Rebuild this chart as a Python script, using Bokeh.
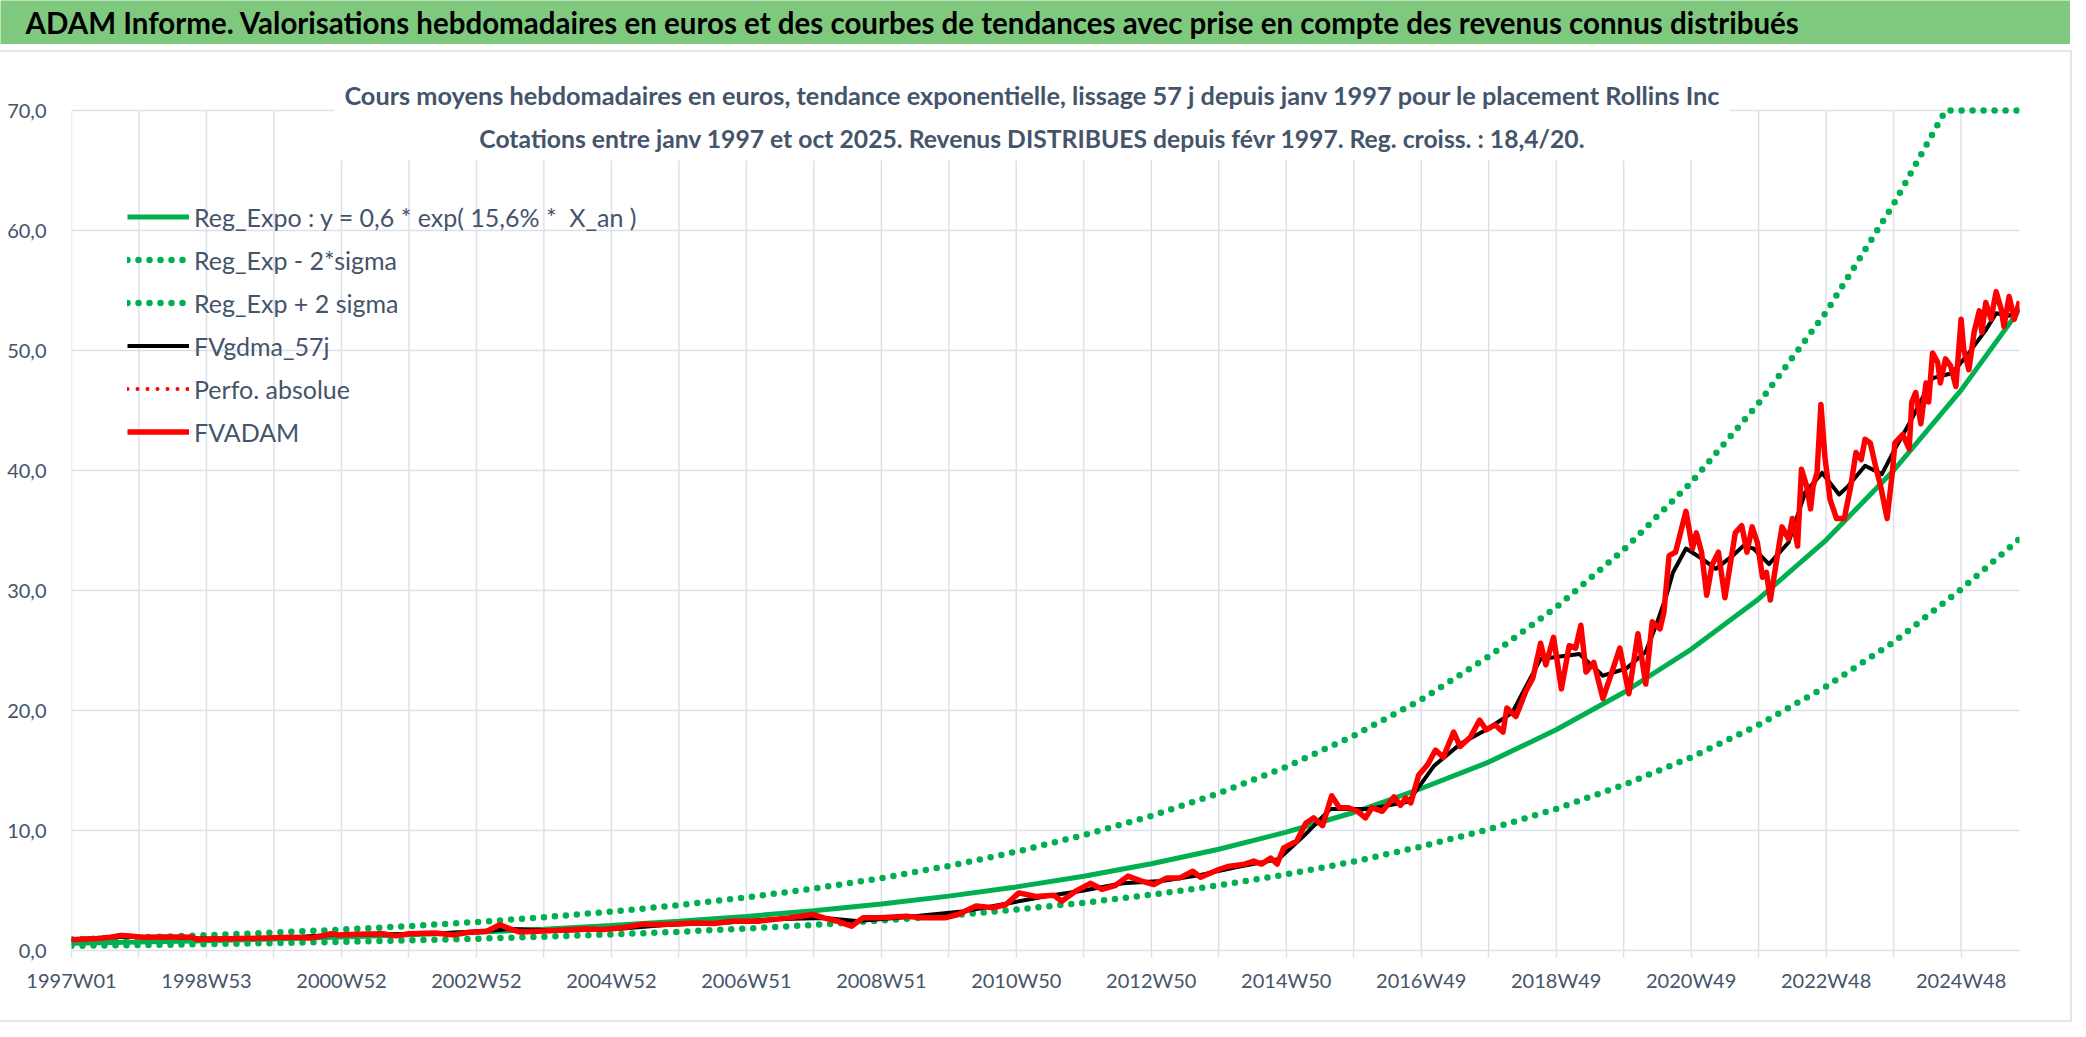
from bokeh.plotting import figure
from bokeh.models import Range1d, FixedTicker, Label, BoxAnnotation, Legend, LegendItem
from bokeh.layouts import column
from bokeh.embed import file_html
from bokeh.resources import INLINE

# ---------------- data ----------------
title_text = ("ADAM Informe. Valorisations hebdomadaires en euros et des courbes de tendances "
              "avec prise en compte des revenus connus distribués")
subtitle_1 = ("Cours moyens hebdomadaires en euros, tendance exponentielle, lissage 57 j depuis "
              "janv 1997 pour le placement Rollins Inc")
subtitle_2 = ("Cotations entre janv 1997 et oct 2025. Revenus DISTRIBUES depuis févr 1997. "
              "Reg. croiss. : 18,4/20.")

x_tick_labels = ["1997W01", "1998W53", "2000W52", "2002W52", "2004W52", "2006W51", "2008W51",
                 "2010W50", "2012W50", "2014W50", "2016W49", "2018W49", "2020W49", "2022W48",
                 "2024W48"]
y_ticks = [0, 10, 20, 30, 40, 50, 60, 70]
y_tick_labels = ["0,0", "10,0", "20,0", "30,0", "40,0", "50,0", "60,0", "70,0"]

last_week = 1501  # weekly categories 0 .. 1501 (1997W01 .. oct 2025)
y_max = 70

trend_weeks = list(range(0, 1457, 52)) + [1501]
reg_expo = [0.60, 0.70, 0.82, 0.96, 1.12, 1.31, 1.53, 1.78, 2.08, 2.43, 2.84, 3.32, 3.88, 4.53,
            5.30, 6.19, 7.23, 8.44, 9.86, 11.5, 13.5, 15.7, 18.4, 21.5, 25.1, 29.3, 34.2, 40.0,
            46.7, 53.4]
reg_minus = [0.39, 0.45, 0.53, 0.62, 0.72, 0.84, 0.98, 1.15, 1.34, 1.56, 1.83, 2.13, 2.49, 2.91,
             3.41, 3.98, 4.65, 5.43, 6.34, 7.41, 8.66, 10.1, 11.8, 13.8, 16.1, 18.8, 22.0, 25.7,
             30.1, 34.3]
upper_weeks = list(range(0, 1405, 52)) + [1444, 1456, 1501]
reg_plus = [0.93, 1.09, 1.27, 1.49, 1.74, 2.03, 2.37, 2.77, 3.24, 3.78, 4.42, 5.16, 6.03, 7.05,
            8.23, 9.62, 11.2, 13.1, 15.3, 17.9, 20.9, 24.5, 28.6, 33.4, 39.0, 45.6, 53.2, 62.2,
            70.0, 70.0, 70.0]

smooth_weeks = [0, 40, 80, 100, 130, 160, 200, 240, 280, 320,
                340, 380, 420, 460, 500, 540, 580, 605, 640, 690,
                720, 750, 780, 810, 840, 870, 900, 930, 950, 970,
                1000, 1030, 1050, 1070, 1090, 1110, 1132, 1162, 1180, 1198,
                1213, 1221, 1229, 1234, 1244, 1257, 1267, 1280, 1288, 1296,
                1308, 1323, 1336, 1349, 1362, 1369, 1382, 1395, 1405, 1418,
                1434, 1449, 1462, 1475, 1483, 1493, 1501]
fvgdma = [0.9, 1.15, 1.1, 1.0, 1.0, 1.05, 1.3, 1.35, 1.4, 1.65,
          1.8, 1.65, 1.8, 2.15, 2.3, 2.6, 2.7, 2.45, 2.75, 3.3,
          3.9, 4.5, 5.0, 5.6, 5.8, 6.3, 7.0, 7.6, 9.6, 11.8,
          11.8, 12.4, 15.4, 17.2, 18.4, 19.8, 24.3, 24.7, 22.9, 23.5,
          24.9, 27.1, 29.6, 31.5, 33.5, 32.6, 31.8, 32.9, 33.7, 33.5,
          32.2, 34.0, 38.2, 39.8, 38.0, 38.7, 40.4, 39.7, 41.8, 44.3,
          47.7, 48.1, 49.8, 51.7, 53.1, 52.9, 53.4]

adam_weeks = [0, 10, 20, 30, 38, 45, 55, 70, 85, 93,
              97, 110, 130, 150, 170, 185, 195, 200, 205, 220,
              240, 250, 260, 280, 295, 305, 320, 330, 338, 345,
              360, 380, 395, 410, 425, 440, 450, 465, 480, 495,
              509, 529, 553, 571, 580, 590, 601, 610, 623, 643,
              656, 673, 683, 697, 710, 720, 730, 743, 757, 763,
              773, 785, 794, 804, 814, 824, 834, 844, 854, 864,
              870, 884, 891, 904, 911, 917, 924, 929, 934, 944,
              951, 957, 964, 971, 977, 984, 991, 997,
              1002, 1010, 1019, 1024, 1028, 1032, 1038, 1045, 1051, 1057,
              1065, 1070, 1078, 1085, 1090, 1097, 1103, 1106, 1113, 1121,
              1126, 1132, 1136, 1142, 1148, 1154, 1159, 1163, 1167, 1173,
              1180, 1186, 1193, 1200, 1207, 1213, 1218, 1224, 1227, 1231,
              1236, 1244,
              1249, 1252, 1256, 1260, 1264, 1269, 1274, 1282, 1287, 1291,
              1295, 1299, 1303, 1306, 1309, 1314, 1318, 1323, 1326, 1330,
              1333, 1337, 1340, 1342, 1345, 1348, 1351, 1355, 1360, 1366,
              1371, 1375, 1379, 1382, 1386, 1390, 1394, 1399, 1403, 1405,
              1411, 1416, 1418, 1421, 1425, 1429, 1431, 1434, 1438, 1440,
              1444, 1448, 1452, 1456, 1458, 1462, 1466, 1470, 1472, 1475,
              1479, 1483, 1487, 1489, 1493, 1497, 1501]
fvadam = [0.9, 0.95, 1.0, 1.1, 1.25, 1.2, 1.1, 1.12, 1.12, 1.1,
          0.92, 0.95, 1.0, 1.05, 1.1, 1.05, 1.25, 1.4, 1.3, 1.35,
          1.4, 1.22, 1.4, 1.45, 1.3, 1.5, 1.6, 2.15, 1.8, 1.55,
          1.6, 1.7, 1.8, 1.75, 1.9, 2.2, 2.15, 2.2, 2.3, 2.25,
          2.44, 2.44, 2.72, 3.0, 2.72, 2.44, 2.03, 2.72, 2.72, 2.86,
          2.72, 2.72, 3.0, 3.7, 3.56, 3.83, 4.8, 4.5, 4.6, 4.1,
          4.9, 5.6, 5.1, 5.4, 6.2, 5.8, 5.5, 6.05, 6.05, 6.6,
          6.1, 6.75, 7.0, 7.2, 7.45, 7.2, 7.7, 7.2, 8.55, 9.1,
          10.6, 11.05, 10.4, 12.9, 11.9, 11.9, 11.6, 11.05,
          11.9, 11.6, 12.8, 12.1, 12.7, 12.3, 14.6, 15.5, 16.7, 16.1,
          18.2, 17.0, 17.8, 19.2, 18.4, 18.8, 18.2, 20.2, 19.5, 21.7,
          22.7, 25.6, 23.8, 26.1, 21.8, 25.4, 25.2, 27.1, 23.2, 24.0,
          21.0, 22.9, 25.2, 21.4, 26.4, 22.2, 27.4, 26.8, 28.2, 32.9,
          33.2, 36.6,
          33.5, 34.8, 33.2, 29.6, 32.1, 33.2, 29.4, 34.8, 35.4, 33.2,
          35.3, 34.0, 31.1, 31.5, 29.2, 32.6, 35.3, 34.3, 36.0, 33.7,
          40.1, 38.7, 36.8, 38.7, 39.8, 45.5, 41.2, 37.6, 36.0, 36.0,
          38.7, 41.5, 40.9, 42.6, 42.3, 40.4, 38.7, 36.0, 39.8, 42.3,
          43.0, 41.8, 45.7, 46.5, 43.9, 47.3, 45.7, 49.8, 49.0, 47.3,
          49.3, 48.7, 47.0, 52.6, 50.1, 48.4, 51.5, 53.3, 51.5, 54.0,
          52.6, 54.9, 53.4, 52.0, 54.5, 52.6, 54.1]

legend_labels = ["Reg_Expo : y = 0,6 * exp( 15,6% *  X_an )", "Reg_Exp - 2*sigma",
                 "Reg_Exp + 2 sigma", "FVgdma_57j", "Perfo. absolue", "FVADAM"]

# ---------------- styling / layout ----------------
FONT = "Lato"
SLATE = "#44546A"
GREEN = "#00B050"
RED = "#FF0000"
GRIDC = "#DDE1E7"
BANNER = "#7FC97F"

W = 2070
BANNER_H = 44
MAIN_H = 968
B_LEFT, B_RIGHT, B_TOP, B_BOTTOM = 71, 51, 2, 70
FRAME_W = W - B_LEFT - B_RIGHT
FRAME_H = MAIN_H - B_TOP - B_BOTTOM
PX_Y = 840 / y_max                  # 12 px per unit, 70 sits 840 px above the x axis
Y_TOP = FRAME_H / PX_Y
PX_X = FRAME_W / last_week

# ---- banner ----
banner = figure(width=W, height=BANNER_H, x_range=Range1d(0, W), y_range=Range1d(0, BANNER_H),
                toolbar_location=None, output_backend="svg",
                x_axis_location=None, y_axis_location=None)
banner.grid.visible = False
banner.outline_line_color = None
banner.background_fill_color = BANNER
banner.border_fill_color = BANNER

# ---- main chart ----
p = figure(width=W, height=MAIN_H, x_range=Range1d(0, last_week), y_range=Range1d(0, Y_TOP),
           toolbar_location=None, output_backend="svg",
           min_border_left=B_LEFT, min_border_right=B_RIGHT,
           min_border_top=B_TOP, min_border_bottom=B_BOTTOM)

try:
    banner.frame_align = False
    p.frame_align = False
    free_frames = True
except Exception:
    free_frames = False

if free_frames:
    banner.min_border = 0
    banner.min_border_left = 0
    banner.min_border_right = 0
    banner.min_border_top = 0
    banner.min_border_bottom = 0
    banner.title = None
    banner.add_layout(Label(x=25, y=BANNER_H - 22, text=title_text, text_font=FONT,
                            text_font_style="bold", text_font_size="29.5px",
                            text_color="black", text_baseline="middle",
                            text_align="left"))
else:
    banner.min_border_left = B_LEFT
    banner.min_border_right = B_RIGHT
    banner.min_border_top = 2
    banner.min_border_bottom = 0
    banner.title.text = title_text
    banner.title.align = "left"
    banner.title.offset = 25 - B_LEFT
    banner.title.standoff = 0
    banner.title.vertical_align = "middle"
    banner.title.text_font = FONT
    banner.title.text_font_style = "bold"
    banner.title.text_font_size = "29.5px"
    banner.title.text_color = "black"

p.outline_line_color = None
p.background_fill_color = "white"
p.border_fill_color = "white"

grid_weeks = list(range(0, last_week + 1, 52))
p.xaxis.ticker = FixedTicker(ticks=grid_weeks)
overrides = {}
for t in grid_weeks:
    overrides[t] = x_tick_labels[t // 104] if t % 104 == 0 else ""
p.xaxis.major_label_overrides = overrides
p.xaxis.axis_line_color = GRIDC
p.xaxis.axis_line_width = 1.5
p.xaxis.major_tick_line_color = GRIDC
p.xaxis.major_tick_line_width = 1.5
p.xaxis.major_tick_out = 7
p.xaxis.major_tick_in = 0
p.xaxis.minor_tick_line_color = None
p.xaxis.major_label_standoff = 10
p.xaxis.major_label_text_font = FONT
p.xaxis.major_label_text_font_size = "20px"
p.xaxis.major_label_text_color = SLATE

p.yaxis.ticker = FixedTicker(ticks=y_ticks)
p.yaxis.major_label_overrides = dict(zip(y_ticks, y_tick_labels))
p.yaxis.axis_line_color = None
p.yaxis.major_tick_line_color = None
p.yaxis.minor_tick_line_color = None
p.yaxis.major_label_standoff = 19
p.yaxis.major_label_text_font = FONT
p.yaxis.major_label_text_font_size = "20px"
p.yaxis.major_label_text_color = SLATE

# horizontal grid from the y ticker; vertical grid lines stop at the 70 line
p.xgrid.grid_line_color = None
p.ygrid.ticker = FixedTicker(ticks=y_ticks)
p.ygrid.grid_line_color = GRIDC
p.ygrid.grid_line_width = 1.5
p.segment(x0=grid_weeks, y0=[0] * len(grid_weeks), x1=grid_weeks,
          y1=[y_max] * len(grid_weeks), line_color=GRIDC, line_width=1.5)

r_trend = p.line(trend_weeks, reg_expo, line_color=GREEN, line_width=5)
r_minus = p.line(trend_weeks, reg_minus, line_color=GREEN, line_width=6.5,
                 line_dash="0 11", line_cap="round")
r_plus = p.line(upper_weeks, reg_plus, line_color=GREEN, line_width=6.5,
                line_dash="0 11", line_cap="round")
r_perfo = p.line(adam_weeks, fvadam, line_color=RED, line_width=4, line_dash="0 10",
                 line_cap="round")
r_gdma = p.line(smooth_weeks, fvgdma, line_color="black", line_width=4, line_join="round")
r_adam = p.line(adam_weeks, fvadam, line_color=RED, line_width=5.5, line_join="round")

# white title box of the chart title (hides the grid under it)
title_left_px, title_right_px, title_bottom_px = 263, 1658, 50
p.add_layout(BoxAnnotation(left=title_left_px / PX_X, right=title_right_px / PX_X,
                           bottom=y_max - title_bottom_px / PX_Y, top=Y_TOP,
                           fill_color="white", fill_alpha=1.0, line_color=None))
p.add_layout(Label(x=961 / PX_X, y=y_max + 15.5 / PX_Y, text=subtitle_1, text_font=FONT,
                   text_font_style="bold", text_font_size="25.3px", text_color=SLATE,
                   text_align="center", text_baseline="middle"))
p.add_layout(Label(x=961 / PX_X, y=y_max - 28 / PX_Y, text=subtitle_2, text_font=FONT,
                   text_font_style="bold", text_font_size="24.7px", text_color=SLATE,
                   text_align="center", text_baseline="middle"))

legend = Legend(items=[LegendItem(label=legend_labels[0], renderers=[r_trend]),
                       LegendItem(label=legend_labels[1], renderers=[r_minus]),
                       LegendItem(label=legend_labels[2], renderers=[r_plus]),
                       LegendItem(label=legend_labels[3], renderers=[r_gdma]),
                       LegendItem(label=legend_labels[4], renderers=[r_perfo]),
                       LegendItem(label=legend_labels[5], renderers=[r_adam])],
                location=(56, 497), orientation="vertical",
                glyph_width=62, glyph_height=43, label_height=43, label_standoff=5,
                spacing=0, padding=0, margin=0,
                label_text_font=FONT, label_text_font_size="25px", label_text_color=SLATE,
                border_line_color=None, background_fill_alpha=0)
p.add_layout(legend)

p.styles = {"box-shadow": "0 0 0 2px #E2E5EA"}

layout = column(banner, p, spacing=8)
open("out.html", "w").write(file_html(layout, INLINE))
